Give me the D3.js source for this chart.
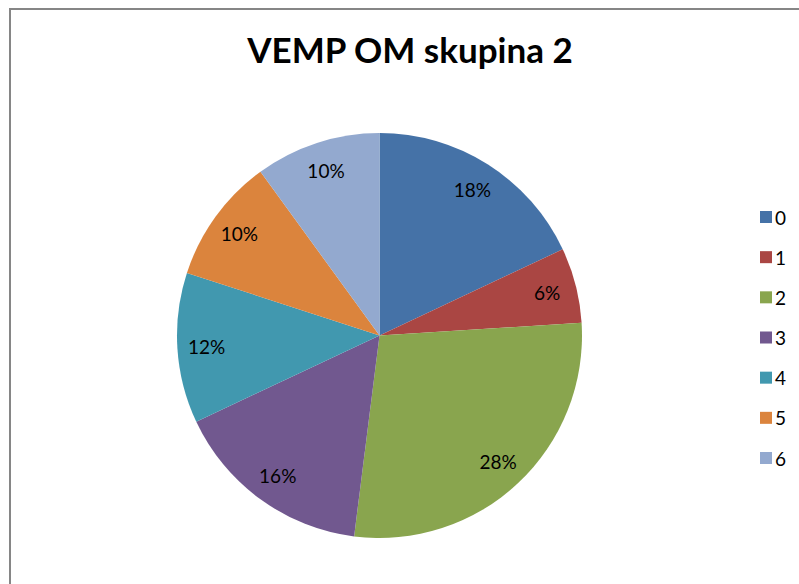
<!DOCTYPE html>
<html>
<head>
<meta charset="utf-8">
<script src="https://cdn.jsdelivr.net/npm/d3@7"></script>
<style>
  html, body { margin: 0; padding: 0; background: #fff; }
  svg { display: block; }
</style>
</head>
<body>
<svg id="chart" width="799" height="584"></svg>
<script>
// Chart data
const title = "VEMP OM skupina 2";
const categories = ["0", "1", "2", "3", "4", "5", "6"];
const values = [18, 6, 28, 16, 12, 10, 10];
const colors = ["#4572A7", "#AA4643", "#89A54E", "#71588F", "#4198AF", "#DB843D", "#93A9CF"];

const W = 799, H = 584;
const svg = d3.select("#chart");
const font = "Lato, 'Open Sans', sans-serif";

// Chart area frame (top and left edges visible)
svg.append("path")
  .attr("d", `M10,${H} L10,9 L${W},9`)
  .attr("fill", "none")
  .attr("stroke", "#868686")
  .attr("stroke-width", 2);

// Title
svg.append("text")
  .attr("x", 410)
  .attr("y", 63)
  .attr("text-anchor", "middle")
  .attr("font-family", font)
  .attr("font-weight", "bold")
  .attr("font-size", 35)
  .attr("fill", "#000")
  .text(title);

// Pie
const cx = 379.5, cy = 335.5, r = 202.5;
const total = d3.sum(values);
const pie = d3.pie().sort(null).value(d => d)(values);
const arc = d3.arc().innerRadius(0).outerRadius(r);
const labelArc = d3.arc().innerRadius(r * 0.855).outerRadius(r * 0.855);

const g = svg.append("g").attr("transform", `translate(${cx},${cy})`);
g.selectAll("path.slice")
  .data(pie)
  .join("path")
  .attr("class", "slice")
  .attr("d", arc)
  .attr("fill", (d, i) => colors[i]);

g.selectAll("text.lbl")
  .data(pie)
  .join("text")
  .attr("class", "lbl")
  .attr("transform", d => `translate(${labelArc.centroid(d)})`)
  .attr("text-anchor", "middle")
  .attr("dominant-baseline", "central")
  .attr("font-family", font)
  .attr("font-size", 19)
  .attr("fill", "#000")
  .text(d => Math.round(d.data / total * 100) + "%");

// Legend
const legend = svg.append("g");
const ly = d3.scalePoint().domain(categories).range([217, 458]);
const items = legend.selectAll("g")
  .data(categories)
  .join("g")
  .attr("transform", d => `translate(760,${ly(d)})`);
items.append("rect")
  .attr("x", 0).attr("y", -6)
  .attr("width", 12).attr("height", 12)
  .attr("fill", (d, i) => colors[i]);
items.append("text")
  .attr("x", 15).attr("y", 0)
  .attr("dominant-baseline", "central")
  .attr("font-family", font)
  .attr("font-size", 19)
  .attr("fill", "#000")
  .text(d => d);
</script>
</body>
</html>
